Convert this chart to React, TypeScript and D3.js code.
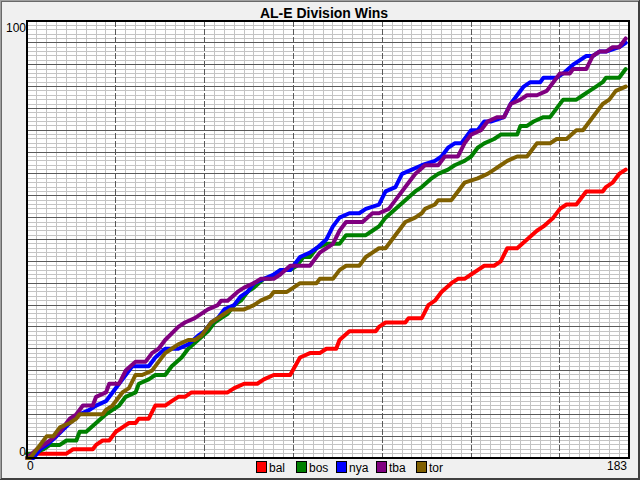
import * as d3 from "d3";

// cumulative wins by day of season (day 0 = opening day)
type Pt = [number, number];

const bal: Pt[] = [
  [0, 0], [1, 0], [2, 1], [12, 1], [14, 2], [20, 2], [21, 3], [23, 4], [25, 4], [27, 6],
  [29, 7], [31, 8], [33, 8], [34, 9], [37, 9], [39, 12], [42, 12], [44, 13], [46, 14],
  [48, 14], [50, 15], [61, 15], [63, 16], [66, 17], [70, 17], [72, 18], [75, 19], [80, 19],
  [83, 23], [86, 24], [89, 24], [91, 25], [94, 25], [95, 27], [98, 29], [106, 29], [107, 30],
  [109, 31], [115, 31], [116, 32], [120, 32], [122, 35], [124, 36], [126, 38], [129, 40],
  [131, 41], [133, 41], [135, 42], [137, 43], [139, 44], [142, 44], [144, 45], [146, 48],
  [149, 48], [152, 50], [155, 52], [157, 53], [160, 55], [162, 57], [164, 58], [167, 58],
  [170, 61], [175, 61], [176, 62], [178, 63], [179, 64], [180, 65], [182, 66],
];

const bos: Pt[] = [
  [0, 1], [2, 1], [5, 2], [7, 3], [10, 3], [12, 4], [15, 4], [16, 6], [18, 6], [21, 8],
  [24, 10], [26, 11], [28, 12], [30, 14], [33, 15], [34, 17], [37, 18], [39, 19], [42, 19],
  [44, 21], [47, 23], [49, 25], [52, 27], [55, 29], [57, 31], [59, 32], [61, 33], [63, 35],
  [65, 36], [67, 38], [69, 39], [72, 41], [74, 41], [77, 43], [80, 43], [82, 44], [84, 46],
  [86, 46], [88, 48], [91, 49], [95, 49], [97, 51], [103, 51], [105, 52], [107, 53],
  [109, 55], [112, 57], [115, 59], [118, 61], [120, 62], [123, 64], [125, 65], [128, 66],
  [130, 67], [133, 68], [135, 69], [137, 71], [139, 72], [142, 73], [144, 74], [149, 74],
  [150, 76], [152, 76], [154, 77], [157, 78], [159, 78], [161, 80], [163, 82], [167, 82],
  [169, 83], [171, 84], [173, 85], [175, 86], [176, 87], [180, 87], [182, 89],
];

const nya: Pt[] = [
  [0, 0], [2, 0], [4, 2], [6, 3], [9, 5], [13, 8], [16, 10], [19, 11], [21, 12], [24, 13],
  [26, 15], [28, 17], [30, 19], [32, 21], [37, 21], [39, 23], [42, 25], [46, 25], [49, 26],
  [52, 28], [54, 29], [56, 31], [58, 32], [60, 34], [63, 35], [65, 37], [67, 38], [69, 40],
  [72, 41], [75, 42], [77, 43], [80, 43], [83, 46], [86, 47], [88, 48], [91, 50], [93, 53],
  [95, 55], [98, 56], [101, 56], [103, 57], [107, 58], [109, 61], [112, 62], [114, 65],
  [117, 66], [120, 67], [124, 68], [126, 69], [128, 71], [130, 72], [132, 72], [135, 75],
  [137, 75], [139, 77], [141, 77], [145, 78], [147, 81], [151, 85], [153, 86], [156, 86],
  [157, 87], [161, 87], [163, 88], [166, 90], [168, 91], [170, 92], [172, 92], [174, 93],
  [176, 93], [180, 94], [182, 95],
];

const tba: Pt[] = [
  [0, 0], [3, 2], [7, 4], [10, 6], [13, 9], [15, 10], [17, 12], [20, 12], [21, 14], [24, 15],
  [25, 17], [28, 17], [30, 20], [33, 22], [36, 22], [38, 24], [40, 25], [42, 27], [46, 30],
  [48, 31], [51, 32], [55, 34], [58, 35], [59, 36], [61, 36], [64, 38], [66, 39], [69, 40],
  [71, 41], [75, 41], [77, 42], [80, 44], [86, 44], [89, 47], [91, 48], [93, 49], [95, 52],
  [97, 54], [102, 54], [105, 56], [107, 56], [110, 57], [112, 59], [115, 62], [118, 65],
  [121, 67], [125, 67], [127, 69], [131, 69], [133, 72], [135, 74], [138, 75], [140, 77],
  [143, 78], [145, 78], [147, 81], [150, 82], [152, 83], [155, 83], [158, 84], [160, 86],
  [162, 88], [165, 88], [166, 89], [170, 89], [172, 92], [174, 93], [176, 93], [178, 94],
  [180, 94], [182, 96],
];

const tor: Pt[] = [
  [0, 0], [1, 0], [4, 3], [6, 5], [8, 5], [10, 7], [13, 8], [15, 9], [16, 10], [23, 10],
  [24, 11], [26, 12], [29, 15], [31, 16], [33, 19], [35, 19], [38, 20], [40, 22], [42, 24],
  [44, 25], [46, 26], [49, 27], [51, 27], [53, 28], [56, 31], [58, 32], [60, 33], [62, 34],
  [66, 34], [69, 35], [71, 36], [74, 37], [75, 38], [79, 38], [81, 39], [83, 40], [88, 40],
  [89, 41], [93, 41], [95, 43], [97, 44], [101, 44], [103, 46], [105, 47], [107, 48],
  [109, 48], [111, 50], [113, 52], [115, 54], [118, 55], [120, 56], [121, 57], [124, 58],
  [125, 59], [129, 59], [131, 61], [133, 63], [137, 64], [140, 65], [142, 66], [144, 67],
  [146, 68], [149, 69], [152, 69], [155, 72], [159, 72], [161, 73], [164, 73], [167, 75],
  [169, 75], [171, 77], [173, 79], [175, 81], [177, 82], [179, 84], [182, 85],
];

const teams = ["bal", "bos", "nya", "tba", "tor"];
const teamSeries = [bal, bos, nya, tba, tor];
const teamColors = ["#ff0000", "#008000", "#0000ff", "#800080", "#806000"];

const title = "AL-E Division Wins";
const xMax = 183;
const yMax = 100;

const W = 640;
const H = 480;
const font = "'Liberation Sans', Arial, sans-serif";

export default function App() {
  const x = d3.scaleLinear([0, xMax], [27, 629]);
  const y = d3.scaleLinear([0, yMax], [458, 21]);

  const line = d3
    .line<Pt>()
    .x((d) => x(d[0]))
    .y((d) => y(d[1]));

  // grid: minor every 3 days / 1 win, major every 27 days / 5 wins
  const xMinor = d3.range(3, xMax, 3).filter((d) => d % 27 !== 0);
  const xMajor = d3.range(27, xMax, 27);
  const yMinor = d3.range(1, yMax).filter((d) => d % 5 !== 0);
  const yMajor = d3.range(5, yMax, 5);

  const [x0, x1] = x.range();
  const [y0, y1] = y.range();

  return (
    <svg
      width={W}
      height={H}
      viewBox={`0 0 ${W} ${H}`}
      style={{ position: "absolute", left: 0, top: 0, fontFamily: font }}
    >
      <rect x={0} y={0} width={W} height={H} fill="#f0f0f0" />
      {/* window frame */}
      <g shapeRendering="crispEdges" fill="none">
        <rect x={0.5} y={0.5} width={W - 1} height={H - 1} stroke="#a0a0a0" />
        <path d={`M1.5,${H - 2}V1.5H${W - 2}`} stroke="#696969" />
        <path d={`M0,${H - 0.5}H${W - 0.5}V0`} stroke="#404040" />
        <path d={`M1,${H - 1.5}H${W - 1.5}V1`} stroke="#404040" />
      </g>

      <text
        x={324}
        y={18}
        textAnchor="middle"
        fontSize={14}
        fontWeight="bold"
        fill="#000"
      >
        {title}
      </text>

      <rect x={x0} y={y1} width={x1 - x0} height={y0 - y1} fill="#fff" />

      <g shapeRendering="crispEdges">
        {xMinor.map((d) => (
          <line key={"xm" + d} x1={x(d)} x2={x(d)} y1={y1} y2={y0} stroke="#c4c4c4" />
        ))}
        {yMinor.map((d) => (
          <line key={"ym" + d} x1={x0} x2={x1} y1={y(d)} y2={y(d)} stroke="#c4c4c4" />
        ))}
        {yMajor.map((d) => (
          <line key={"yM" + d} x1={x0} x2={x1} y1={y(d)} y2={y(d)} stroke="#5a5a5a" />
        ))}
        {xMajor.map((d) => (
          <line
            key={"xM" + d}
            x1={x(d)}
            x2={x(d)}
            y1={y1}
            y2={y0}
            stroke="#5a5a5a"
            strokeDasharray="6,2"
          />
        ))}
      </g>

      <g fill="none" strokeWidth={4} strokeLinejoin="round" strokeLinecap="round">
        {teamSeries.map((s, i) => (
          <path key={teams[i]} d={line(s) ?? ""} stroke={teamColors[i]} />
        ))}
      </g>

      <rect
        x={x0}
        y={y1}
        width={x1 - x0}
        height={y0 - y1}
        fill="none"
        stroke="#000"
        strokeWidth={1.5}
        shapeRendering="crispEdges"
      />

      <g fontSize={12} fill="#000">
        <text x={x0 - 1} y={y(yMax) + 11} textAnchor="end">
          {yMax}
        </text>
        <text x={x0 - 1} y={y(0) - 2} textAnchor="end">
          0
        </text>
        <text x={x(0)} y={y(0) + 12} textAnchor="start">
          0
        </text>
        <text x={x(xMax) - 2} y={y(0) + 12} textAnchor="end">
          {xMax}
        </text>
      </g>

      <g fontSize={12}>
        {teams.map((t, i) => {
          const lx = 256 + i * 40;
          return (
            <g key={t} transform={`translate(${lx},461)`}>
              <rect
                x={0.5}
                y={0.5}
                width={10}
                height={11}
                fill={teamColors[i]}
                stroke="#000"
                shapeRendering="crispEdges"
              />
              <text x={13} y={10.5} fill="#000">
                {t}
              </text>
            </g>
          );
        })}
      </g>
    </svg>
  );
}
